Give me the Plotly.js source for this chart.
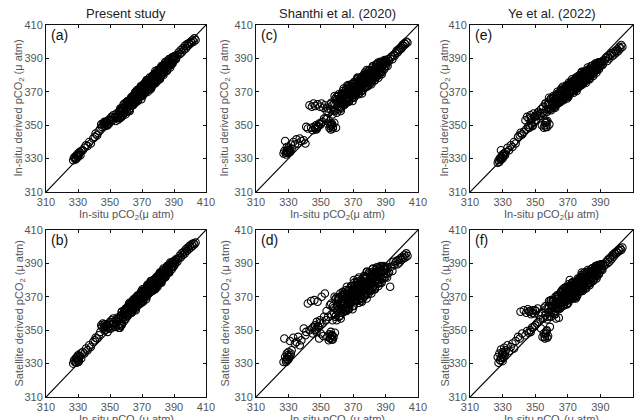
<!DOCTYPE html>
<html>
<head>
<meta charset="utf-8">
<script src="https://cdn.plot.ly/plotly-3.0.1.min.js"></script>
<style>html,body{margin:0;padding:0;background:#fff;}#chart{width:640px;height:420px;}</style>
</head>
<body>
<div id="chart"></div>
<script>
// Shared in-situ pCO2 (x values for every panel)
const inSituPCO2 = [
327, 327.5, 328, 328.5, 329, 329, 329.5, 330, 330, 330.5, 331, 331.5, 332, 333, 334, 335, 336, 337, 338, 339.5,
340.5, 341, 342, 343, 344, 344.5, 345, 345.5, 346, 346.5, 347, 347.5, 348, 348.5, 349, 349.5, 350, 350.5, 351, 351.5, 352, 352.5,
353.2, 353.6, 354.1, 354.5, 354.9, 355.3, 355.6, 356.0, 356.2, 356.5, 356.8, 357.1, 357.5, 357.9, 358.3, 358.7, 359.0, 359.4, 359.9, 360.3,
360.7, 361.1, 361.6, 362.0, 362.4, 362.8, 363.3, 363.7, 364.1, 364.5, 364.9, 365.4, 365.8, 366.2, 366.6, 367.0, 367.4, 367.8, 368.2, 368.6,
369.0, 369.3, 369.7, 370.1, 370.5, 370.8, 371.2, 371.6, 372.0, 372.3, 372.7, 373.1, 373.5, 373.8, 374.2, 374.6, 375.0, 375.3, 375.7, 376.1,
376.5, 376.8, 377.2, 377.6, 378.0, 378.3, 378.7, 379.1, 379.5, 379.9, 380.3, 380.7, 381.1, 381.5, 381.9, 382.3, 382.8, 383.2, 383.6, 384.1,
384.5, 385.0, 385.4, 385.9, 386.3, 386.8, 387.3, 387.8, 388.3, 388.8, 389.3, 389.8, 390.3, 390.9, 391.5, 392.1, 370.4, 374.9, 378.6, 366.9,
392.8, 393.5, 394.2, 394.8, 395.5, 396.1, 396.8, 397.4, 398.0, 398.6, 399.2, 399.8, 400.4, 401.0, 401.6, 402.2, 402.8, 403.5,
356.4, 357.3, 358.1, 358.9, 359.7, 360.5, 361.3, 361.9, 362.6, 363.1,
363.5, 363.9, 364.3, 364.7, 365.1, 365.6, 366.0, 366.4, 366.8, 367.2,
367.6, 368.0, 368.4, 368.8, 369.1, 369.5, 369.9, 370.3, 370.6, 371.0,
371.4, 371.8, 372.2, 372.5, 372.9, 373.3, 373.7, 374.0, 374.4, 374.8,
375.2, 375.5, 375.9, 376.3, 376.7, 377.0, 377.4, 377.8, 378.2, 378.5,
378.9, 379.3, 379.7, 380.1, 380.5, 380.9, 381.3, 381.7, 382.1, 382.5,
383.0, 383.4, 383.9, 384.3, 384.8, 385.2, 385.7, 386.1, 386.6, 387.1,
387.6, 388.1, 388.6, 389.1, 389.6, 390.1, 390.6, 391.2, 360.9, 362.2,
364.0, 365.3, 366.5, 367.9, 369.4, 370.9, 371.9, 373.4, 374.7, 375.8,
376.9, 378.1, 379.4, 380.6, 381.8, 383.1, 384.6, 386.0, 387.4, 388.9,
358.5, 359.8, 361.0, 362.3, 363.6, 364.8, 366.1, 367.3, 368.5, 369.6,
370.7, 371.7, 372.6, 373.6, 374.5, 375.4, 376.4, 377.3, 378.3, 379.2,
380.2, 381.2, 382.2, 383.3, 384.4, 385.6, 386.8, 388.0, 355.8, 356.6,
357.4, 356.9, 329.2, 330.3, 328.6, 331.2, 346.5, 348.2, 349.8, 347.3,
363.0, 365.5, 368.0, 370.2, 372.1, 374.0, 376.0, 378.0, 380.0, 382.0,
384.0, 386.0, 367.0, 371.3, 375.1, 379.7, 383.8, 360.2, 362.8, 377.8
];

// (a) Present study, in-situ derived
const presentInSitu = [
329, 330.5, 331, 329.5, 332, 330, 331.5, 333, 331, 332.5, 334, 332, 334.5, 335, 336.5, 338, 337.5, 340, 339, 342,
343, 345, 344, 346.5, 348, 350.5, 349, 351, 350, 352, 349.5, 351.5, 352, 350, 353, 351, 354, 352.5, 355, 353, 356, 354.5,
355, 352.5, 357, 354.5, 356, 353.5, 358, 356.5, 354.5, 359.5,
358, 356.5, 359.5, 356, 358.5, 362, 360.5, 358.5, 362, 361,
358, 362, 364.5, 361.5, 364, 361.5, 366, 363.5, 362, 365.5,
368, 364.5, 366.5, 368, 364, 368.5, 367, 370.5, 368, 367,
370, 372.5, 367.5, 370.5, 372.5, 370, 372.5, 369, 372, 375,
372, 374, 371.5, 377, 374.5, 373, 377, 375, 376.5, 373.5,
378.5, 377, 376, 379, 376, 381, 379, 377.5, 380.5, 379.5,
382.5, 378.5, 381, 383, 381, 384.5, 381.5, 383.5, 384.5, 382,
386, 384.5, 385.5, 388, 385, 388, 386.5, 388.5, 390, 387,
389.5, 391, 390, 391.5, 390.5, 392, 373.5, 373, 379.5, 371,
393.5, 392.5, 395, 393.5, 396, 395, 397.5, 396, 398.5, 397.5, 399, 398.5, 400, 399.5, 401, 400, 402, 401,
360, 355, 359.5, 357, 363.5, 360, 364, 359, 363.5, 366.5,
362, 366, 362, 367.5, 365, 369.5, 364, 368, 366, 370.5,
365, 369, 371.5, 367.5, 373, 369, 372, 367.5, 373, 371,
375, 370, 373.5, 371.5, 377, 371, 374.5, 376.5, 373, 378.5,
374, 378, 372.5, 378, 376, 380, 375, 379, 375, 381,
379, 377.5, 383, 379, 382, 378, 384, 381, 385, 380.5,
384, 380, 386, 383, 388, 385, 383, 387.5, 385.5, 389.5,
384.5, 388.5, 390.5, 387, 391, 389, 391.5, 389.5, 364.5, 360,
366.5, 363, 368, 367.5, 373.5, 369.5, 373, 376.5, 372, 377.5,
376.5, 381, 377.5, 381.5, 379.5, 385, 383.5, 387.5, 386, 389.5,
362.5, 356.5, 363.5, 358.5, 367, 362.5, 370, 364.5, 370, 365.5,
374, 369.5, 376.5, 370, 376.5, 371.5, 379.5, 375, 382.5, 376,
382.5, 377.5, 385.5, 381, 387.5, 382.5, 389.5, 386, 358, 354.5,
360, 355.5, 331.5, 332, 330, 333.5, 351, 350, 353, 352,
365, 363.5, 370.5, 368, 374.5, 372, 378.5, 376, 382, 380,
386, 384.5, 367, 372, 375.5, 379.5, 384, 361.5, 363, 378
];
// (b) Present study, satellite derived
const presentSatellite = [
330, 332, 331, 333, 333.5, 330.5, 334, 332, 335, 331.5, 334.5, 336, 333, 337, 336, 339, 338, 341, 340, 343,
344, 345.5, 345, 347, 349, 353, 352, 354, 351, 353.5, 350, 352.5, 353, 349, 351.5, 354, 355, 351, 356, 353.5, 357, 355,
352, 356, 354, 357.5, 353, 356.5, 351.5, 357.5, 351.5, 355.5,
359, 353, 361, 358, 357, 360, 361, 356.5, 360.5, 363,
359.5, 364, 359.5, 363, 362, 365.5, 361, 365, 364, 363,
367, 366, 364, 369, 365.5, 368, 370, 365.5, 368.5, 370.5,
368, 370.5, 367, 373, 370, 372.5, 369, 373.5, 372.5, 371,
375, 372, 374.5, 371.5, 376, 374.5, 373.5, 378.5, 375, 377.5,
374.5, 379, 377.5, 376, 379, 376, 380.5, 379, 378.5, 382.5,
379, 381.5, 379, 382, 384, 381.5, 384, 381, 384, 385.5,
383, 386, 384.5, 388, 386.5, 385.5, 389, 387.5, 389.5, 388,
390, 388.5, 391.5, 390.5, 392, 391, 367.5, 378, 375.5, 370.5,
393, 394.5, 393.5, 396, 395, 397, 396, 398.5, 397.5, 399.5, 398.5, 400.5, 399.5, 401.5, 400.5, 402, 401.5, 402.5,
354, 361, 357.5, 362, 356.5, 362, 360, 366, 362.5, 360.5,
366, 363, 368, 362.5, 366, 362.5, 369, 366, 369, 364.5,
371, 368, 366.5, 371.5, 366, 371, 369, 374.5, 369, 372,
369, 375, 371.5, 374.5, 370, 377, 373.5, 372.5, 377, 372.5,
376, 373, 379.5, 375, 377, 374, 380, 377, 381, 376,
379, 381.5, 376, 381, 379, 384, 379, 382, 379, 384.5,
382, 387, 382, 386, 382, 385, 388, 384.5, 387.5, 384.5,
390.5, 387.5, 386.5, 391, 388, 391, 389.5, 392.5, 358.5, 365,
362.5, 369, 366, 369.5, 366.5, 373.5, 372, 371.5, 378, 374.5,
377.5, 375, 381.5, 379.5, 384.5, 381, 385.5, 384.5, 389, 388.5,
355, 363, 358.5, 366.5, 360.5, 367.5, 362, 370.5, 367, 373.5,
367, 373.5, 368.5, 377, 372.5, 379.5, 373.5, 380, 374.5, 382,
377.5, 384.5, 378.5, 386, 381.5, 388.5, 384.5, 390, 351.5, 352.5,
353.5, 358.5, 332.5, 331, 331, 334.5, 352, 353.5, 351, 350.5,
366, 367.5, 366, 373, 370, 377, 374, 380.5, 378, 384.5,
382, 388, 368.5, 370.5, 376.5, 378.5, 385, 359.5, 364.5, 377
];
// (c) Shanthi et al. (2020), in-situ derived
const shanthiInSitu = [
333, 334.5, 340.5, 332.5, 335, 337, 334, 333.5, 336.5, 335, 334, 338.5, 336, 340, 338.5, 341.5, 339, 342, 340.5, 341,
339, 349, 348, 362, 348.5, 361, 347, 363, 349, 361.5, 350, 348, 362.5, 349.5, 351, 361, 350.5, 363, 352, 360.5, 354, 362,
354, 358.5, 354, 360, 357.5, 348.5, 351, 362.5, 347.5, 359,
350, 362, 349, 359, 351.5, 365.5, 362, 348.5, 365.5, 361,
364, 368.5, 361, 366, 360.5, 365.5, 368, 364, 372, 363,
368, 371, 365, 370, 364, 368.5, 373.5, 366.5, 372, 368.5,
372, 366.5, 375, 370.5, 373.5, 369, 375, 368, 373, 371,
378, 370, 375.5, 373, 377.5, 372, 375.5, 370.5, 379, 374.5,
378, 373, 381.5, 376.5, 375, 380, 373.5, 379.5, 377, 382.5,
376.5, 381, 376, 383, 380, 385.5, 379, 383.5, 380.5, 386,
379, 384, 387.5, 382, 385.5, 381, 387.5, 385, 387.5, 384.5,
389, 387, 389, 387, 389.5, 388.5, 366.5, 378.5, 378.5, 374,
390, 391, 389.5, 392, 391.5, 393, 394.5, 393.5, 395.5, 395, 396.5, 396, 398, 397.5, 399, 398.5, 400, 399.5,
363.5, 356.5, 362.5, 358.5, 367, 361.5, 366, 359.5, 365.5, 369,
363, 367.5, 362, 369.5, 366, 371.5, 364, 369, 366, 372.5,
364.5, 369.5, 372.5, 367, 374.5, 369, 372.5, 366.5, 373.5, 370.5,
375.5, 368.5, 373.5, 370.5, 377.5, 369, 374.5, 376.5, 371.5, 378.5,
373.5, 378.5, 371, 377.5, 375.5, 380, 373, 378, 373, 380.5,
377.5, 375.5, 383, 377.5, 381, 375.5, 383, 379.5, 384.5, 378,
382.5, 377, 384.5, 380, 386.5, 383, 380, 385.5, 382.5, 387.5,
380.5, 386, 388, 383.5, 388.5, 385.5, 388.5, 385.5, 367.5, 361,
368.5, 363, 369, 367.5, 374.5, 368.5, 373, 376.5, 370.5, 377,
375.5, 381, 375.5, 380.5, 376.5, 383.5, 381, 385.5, 382.5, 386.5,
367.5, 357.5, 367.5, 358.5, 370.5, 362.5, 373.5, 364, 371.5, 364.5,
376, 369, 378.5, 368.5, 377, 369, 380, 372.5, 383, 373.5,
383, 374.5, 385.5, 377, 386.5, 378.5, 388, 382, 349.5, 350.5,
348, 351, 334, 335.5, 333.5, 334.5, 348, 349, 351, 347.5,
365, 369, 368, 372.5, 371.5, 375, 374, 378, 377.5, 381.5,
381.5, 384.5, 370.5, 369.5, 377, 376.5, 383.5, 364, 363, 380
];
// (d) Shanthi et al. (2020), satellite derived
const shanthiSatellite = [
331, 345, 334, 332, 336, 333, 335, 332.5, 337, 334, 343.5, 336, 338, 345.5, 342, 343, 346, 341, 344, 351,
347, 349, 366, 350, 367.5, 351, 348, 352, 368, 353, 350.5, 355, 367, 352, 345, 356, 348, 370, 354, 346.5, 358, 372,
356, 361.5, 346, 358, 344, 347.5, 365, 345.5, 349, 359.5,
344.5, 347, 364.5, 346, 360, 348.5, 368.5, 359, 365, 362.5,
368, 358, 365.5, 372, 362, 367.5, 360.5, 370, 365.5, 372.5,
363.5, 368.5, 361.5, 371, 366, 373.5, 365, 370.5, 368.5, 376.5,
367, 373, 364.5, 372, 376, 369.5, 374, 367.5, 378.5, 371.5,
376.5, 370, 381.5, 373.5, 368.5, 376, 372.5, 379.5, 371, 376.5,
382.5, 370, 379, 374.5, 381.5, 369, 378.5, 374.5, 384, 377,
381, 374, 383, 377.5, 386.5, 376.5, 382, 374.5, 384, 380.5,
386.5, 378, 384.5, 380, 387, 378.5, 384.5, 381, 387.5, 384,
387, 381.5, 387, 381.5, 387, 384.5, 380, 367.5, 385, 362.5,
376, 388, 385.5, 391, 389, 390.5, 391.5, 389.5, 392, 390.5, 393, 392, 394, 393, 395, 393.5, 396, 394.5,
366, 356, 363.5, 358, 369.5, 362, 368, 358.5, 366, 371,
362.5, 369, 361, 371.5, 366, 374, 363.5, 370, 365.5, 374,
363.5, 370, 374, 366.5, 376.5, 368.5, 373.5, 364.5, 375, 370.5,
377, 367.5, 374, 370, 379, 368, 374.5, 377.5, 370.5, 380,
373, 379.5, 369, 378, 375, 381.5, 372, 378.5, 371.5, 381.5,
377.5, 374, 384.5, 376.5, 381.5, 373.5, 383.5, 378.5, 385, 376.5,
382.5, 374.5, 385, 379, 387.5, 382, 378, 385.5, 381.5, 388,
378.5, 385, 388.5, 381.5, 388, 384, 388, 384, 369.5, 360.5,
370, 362, 370, 367.5, 376.5, 368, 373, 378, 369, 378,
375, 382, 374, 380.5, 375, 384, 380, 385.5, 381, 386,
370, 356, 369, 357, 373, 362, 376, 362.5, 372.5, 362.5,
378.5, 368, 380.5, 366.5, 378, 367, 381.5, 371, 385, 371.5,
383.5, 372, 387, 375.5, 387.5, 376.5, 388.5, 380.5, 345, 347,
344.5, 346.5, 332.5, 334, 331, 335, 350, 352.5, 354.5, 349,
366.5, 369.5, 368.5, 373, 371, 375, 373.5, 379, 377.5, 382,
380.5, 384.5, 371.5, 368.5, 377.5, 375, 384, 364.5, 363.5, 380.5
];
// (e) Ye et al. (2022), in-situ derived
const yeInSitu = [
327.5, 329, 328, 330.5, 329.5, 335, 331, 330, 332.5, 331.5, 333, 332, 334, 336.5, 335, 338, 337, 340, 339, 343,
344, 345.5, 344.5, 346, 353, 347.5, 355, 349, 354, 350, 356, 351, 353.5, 349.5, 357, 352, 355.5, 353, 356, 357.5, 358, 356.5,
355.5, 359.5, 350, 357.5, 361, 348.5, 357, 351.5, 363, 349,
359.5, 362, 352.5, 359.5, 364, 350.5, 362, 365.5, 360, 364,
362, 367.5, 361.5, 365.5, 364, 367.5, 362.5, 366.5, 369, 364.5,
368.5, 364, 369.5, 367.5, 371, 366.5, 369.5, 366, 372, 368.5,
373.5, 368, 371.5, 368, 373, 371, 374.5, 369.5, 373.5, 371,
376, 371, 375, 370.5, 376, 373.5, 377.5, 372.5, 376.5, 374,
378.5, 373, 377.5, 379.5, 375, 377.5, 380, 375, 379.5, 377.5,
382, 377, 380.5, 382, 377.5, 381.5, 383.5, 379.5, 383.5, 380,
383, 385.5, 381.5, 384.5, 382.5, 386, 384.5, 386, 384, 387.5,
385.5, 387.5, 386.5, 388, 386.5, 388.5, 367, 378.5, 382, 373,
389, 390.5, 388.5, 391, 390, 392, 393, 391.5, 393.5, 392.5, 394.5, 393.5, 395.5, 394.5, 397, 396, 398, 397,
363, 358, 362.5, 359.5, 366, 362.5, 366, 361, 365.5, 368.5,
363.5, 367.5, 363.5, 369, 366.5, 371, 365, 369, 367, 371.5,
366, 369.5, 372, 368, 373.5, 369.5, 372, 367.5, 373, 371,
375, 369.5, 373.5, 371, 376.5, 370.5, 374, 376, 372, 377.5,
374, 377.5, 372, 377, 375.5, 379, 374, 378, 374, 380,
377.5, 376, 382, 377.5, 380.5, 376.5, 382, 379.5, 383, 378.5,
382, 377.5, 383.5, 380.5, 385.5, 382.5, 380.5, 385, 382.5, 386.5,
381.5, 385.5, 387.5, 383.5, 387.5, 385.5, 388, 386, 366.5, 362,
368, 364, 369, 368, 374, 369.5, 373, 376, 371.5, 377,
375.5, 380, 376, 380, 377.5, 383, 381, 384.5, 383, 386,
366.5, 359, 366.5, 360.5, 370, 363.5, 372, 365, 371, 366,
375.5, 370, 377.5, 369.5, 376.5, 370.5, 379.5, 373.5, 381.5, 374.5,
381.5, 375.5, 384.5, 378, 385.5, 379.5, 387, 383, 350, 351.5,
349, 352, 330, 331.5, 329.5, 333, 348.5, 350, 355, 354.5,
366.5, 366.5, 370.5, 370, 373.5, 372.5, 376.5, 376, 380, 379,
382.5, 382, 371, 370, 377, 376.5, 383.5, 364, 363, 380
];
// (f) Ye et al. (2022), satellite derived
const yeSatellite = [
334, 330.5, 336, 332, 338.5, 333.5, 335, 331.5, 337, 334, 339.5, 336, 338, 341, 337.5, 340, 342, 339, 343.5, 346,
345, 361, 348, 362, 347, 360.5, 349.5, 362.5, 348.5, 361, 350, 359.5, 351.5, 362, 352, 360, 353, 361.5, 354, 363, 355, 359,
356.5, 351, 360.5, 346, 357, 348, 363.5, 345, 359, 347.5,
362.5, 350, 358, 346.5, 364.5, 361, 352, 367.5, 361, 364.5,
367.5, 360, 366, 363.5, 370, 357, 367.5, 363.5, 370.5, 357.5,
368, 364.5, 372.5, 367, 371, 364.5, 372, 368, 375.5, 367,
371.5, 365.5, 375, 370, 373.5, 368, 380, 370.5, 375.5, 369,
374.5, 378.5, 371.5, 376, 370, 378.5, 374, 377, 372.5, 381,
374.5, 379, 373, 378, 381.5, 375, 380, 373.5, 381.5, 378,
384.5, 376.5, 381.5, 379.5, 384.5, 377.5, 383.5, 380, 385.5, 378.5,
383.5, 387, 381.5, 386, 381, 385.5, 388, 384.5, 387.5, 384,
388, 387, 389.5, 387, 389.5, 388.5, 377.5, 369, 384.5, 374.5,
389, 391, 390, 392.5, 391, 393.5, 392.5, 395, 394, 396, 395.5, 397, 396.5, 398, 397.5, 399, 398, 399.5,
364.5, 356.5, 363, 358.5, 368, 362, 367, 359.5, 366, 370,
363, 368.5, 362.5, 370.5, 366.5, 372.5, 364.5, 369.5, 366.5, 373,
365, 370, 373.5, 367.5, 375.5, 369.5, 373, 366.5, 374.5, 371,
376.5, 369, 374.5, 371, 378.5, 369.5, 375, 377, 372, 379,
374, 379, 371, 378, 376, 381, 373.5, 378.5, 373.5, 381.5,
378, 375.5, 384, 378, 381.5, 375.5, 383.5, 380, 385, 378.5,
383, 377, 385, 380.5, 387, 383.5, 380, 386, 383, 388.5,
381, 386.5, 389, 383.5, 389, 386, 389, 386, 368, 361.5,
369, 363, 369.5, 368, 375.5, 369, 373.5, 377.5, 370.5, 378,
376, 382, 376, 381, 377, 384.5, 381.5, 386, 383, 387,
367.5, 358, 367.5, 359.5, 371, 363.5, 373.5, 365, 372, 365.5,
376.5, 369.5, 378.5, 369, 377.5, 370, 380, 373.5, 383, 374.5,
383, 375, 386, 378, 386.5, 379.5, 388, 382.5, 346, 348.5,
345.5, 349.5, 333.5, 336, 332, 335, 361.5, 360.5, 362, 349,
366.5, 366.5, 371, 370.5, 374, 373, 377, 376.5, 380.5, 379.5,
383.5, 383, 371, 370, 377.5, 377, 384, 364.5, 363.5, 380.5
];

const oneToOne = [310, 410];
const tickValues = [310, 330, 350, 370, 390, 410];
const studyTitles = ['Present study', 'Shanthi et al. (2020)', 'Ye et al. (2022)'];
const panelLabels = ['(a)', '(b)', '(c)', '(d)', '(e)', '(f)'];
const yTitleTop = 'In-situ derived pCO<sub>2</sub> (\u03bc atm)';
const yTitleBottom = 'Satellite derived pCO<sub>2</sub> (\u03bc atm)';
const xTitle = 'In-situ pCO<sub>2</sub>(\u03bc atm)';

const seriesY = [presentInSitu, presentSatellite, shanthiInSitu, shanthiSatellite, yeInSitu, yeSatellite];

// geometry (pixels)
const W = 640, H = 420;
const cols = [[46, 206], [256, 418], [470, 633]];
const rows = [[25, 192], [230, 397]];
const yTitleX = [19, 225, 445];

const traces = [];
const layout = {
  width: W, height: H,
  margin: {l: 0, r: 0, t: 0, b: 0},
  paper_bgcolor: '#fff', plot_bgcolor: '#fff',
  showlegend: false,
  font: {family: 'Liberation Sans, Arial, sans-serif', color: '#555', size: 11},
  annotations: []
};

for (let p = 0; p < 6; p++) {
  const c = Math.floor(p / 2), r = p % 2;
  const n = p + 1;
  const xa = 'x' + (n === 1 ? '' : n), ya = 'y' + (n === 1 ? '' : n);
  const xk = 'xaxis' + (n === 1 ? '' : n), yk = 'yaxis' + (n === 1 ? '' : n);
  const axCommon = {
    range: [310, 410], tickvals: tickValues, ticktext: tickValues.map(String),
    showline: true, linecolor: '#111', linewidth: 1, mirror: 'ticks',
    ticks: 'inside', ticklen: 3, tickwidth: 1, tickcolor: '#111',
    showgrid: false, zeroline: false, fixedrange: true,
    tickfont: {size: 11, color: '#555', family: 'Liberation Sans, Arial, sans-serif'}
  };
  layout[xk] = Object.assign({}, axCommon, {domain: [cols[c][0] / W, cols[c][1] / W], anchor: ya});
  layout[yk] = Object.assign({}, axCommon, {domain: [1 - rows[r][1] / H, 1 - rows[r][0] / H], anchor: xa});

  traces.push({
    type: 'scatter', mode: 'markers', x: inSituPCO2, y: seriesY[p], xaxis: xa, yaxis: ya,
    marker: {symbol: 'circle-open', size: 7.5, color: '#000', line: {width: 1.05, color: '#000'}},
    hoverinfo: 'x+y'
  });
  traces.push({
    type: 'scatter', mode: 'lines', x: oneToOne, y: oneToOne, xaxis: xa, yaxis: ya,
    line: {color: '#000', width: 1.2}, hoverinfo: 'skip'
  });

  const cx = (cols[c][0] + cols[c][1]) / 2 / W;
  layout.annotations.push({text: panelLabels[p], xref: 'paper', yref: 'paper',
    x: (cols[c][0] + 3) / W, y: 1 - (rows[r][0] + 10) / H, xanchor: 'left', yanchor: 'middle',
    showarrow: false, font: {size: 14, color: '#111'}});
  layout.annotations.push({text: r === 0 ? yTitleTop : yTitleBottom, xref: 'paper', yref: 'paper',
    x: yTitleX[c] / W, y: 1 - ((rows[r][0] + rows[r][1]) / 2) / H, xanchor: 'center', yanchor: 'middle',
    textangle: -90, showarrow: false, font: {size: 11, color: '#555'}});
  layout.annotations.push({text: xTitle, xref: 'paper', yref: 'paper',
    x: cx, y: 1 - (rows[r][1] + 23) / H, xanchor: 'center', yanchor: 'middle',
    showarrow: false, font: {size: 11, color: '#555'}});
  if (r === 0) {
    layout.annotations.push({text: studyTitles[c], xref: 'paper', yref: 'paper',
      x: cx, y: 1 - 13 / H, xanchor: 'center', yanchor: 'middle',
      showarrow: false, font: {size: 13, color: '#222'}});
  }
}

Plotly.newPlot('chart', traces, layout, {staticPlot: true, displayModeBar: false});
</script>
</body>
</html>
